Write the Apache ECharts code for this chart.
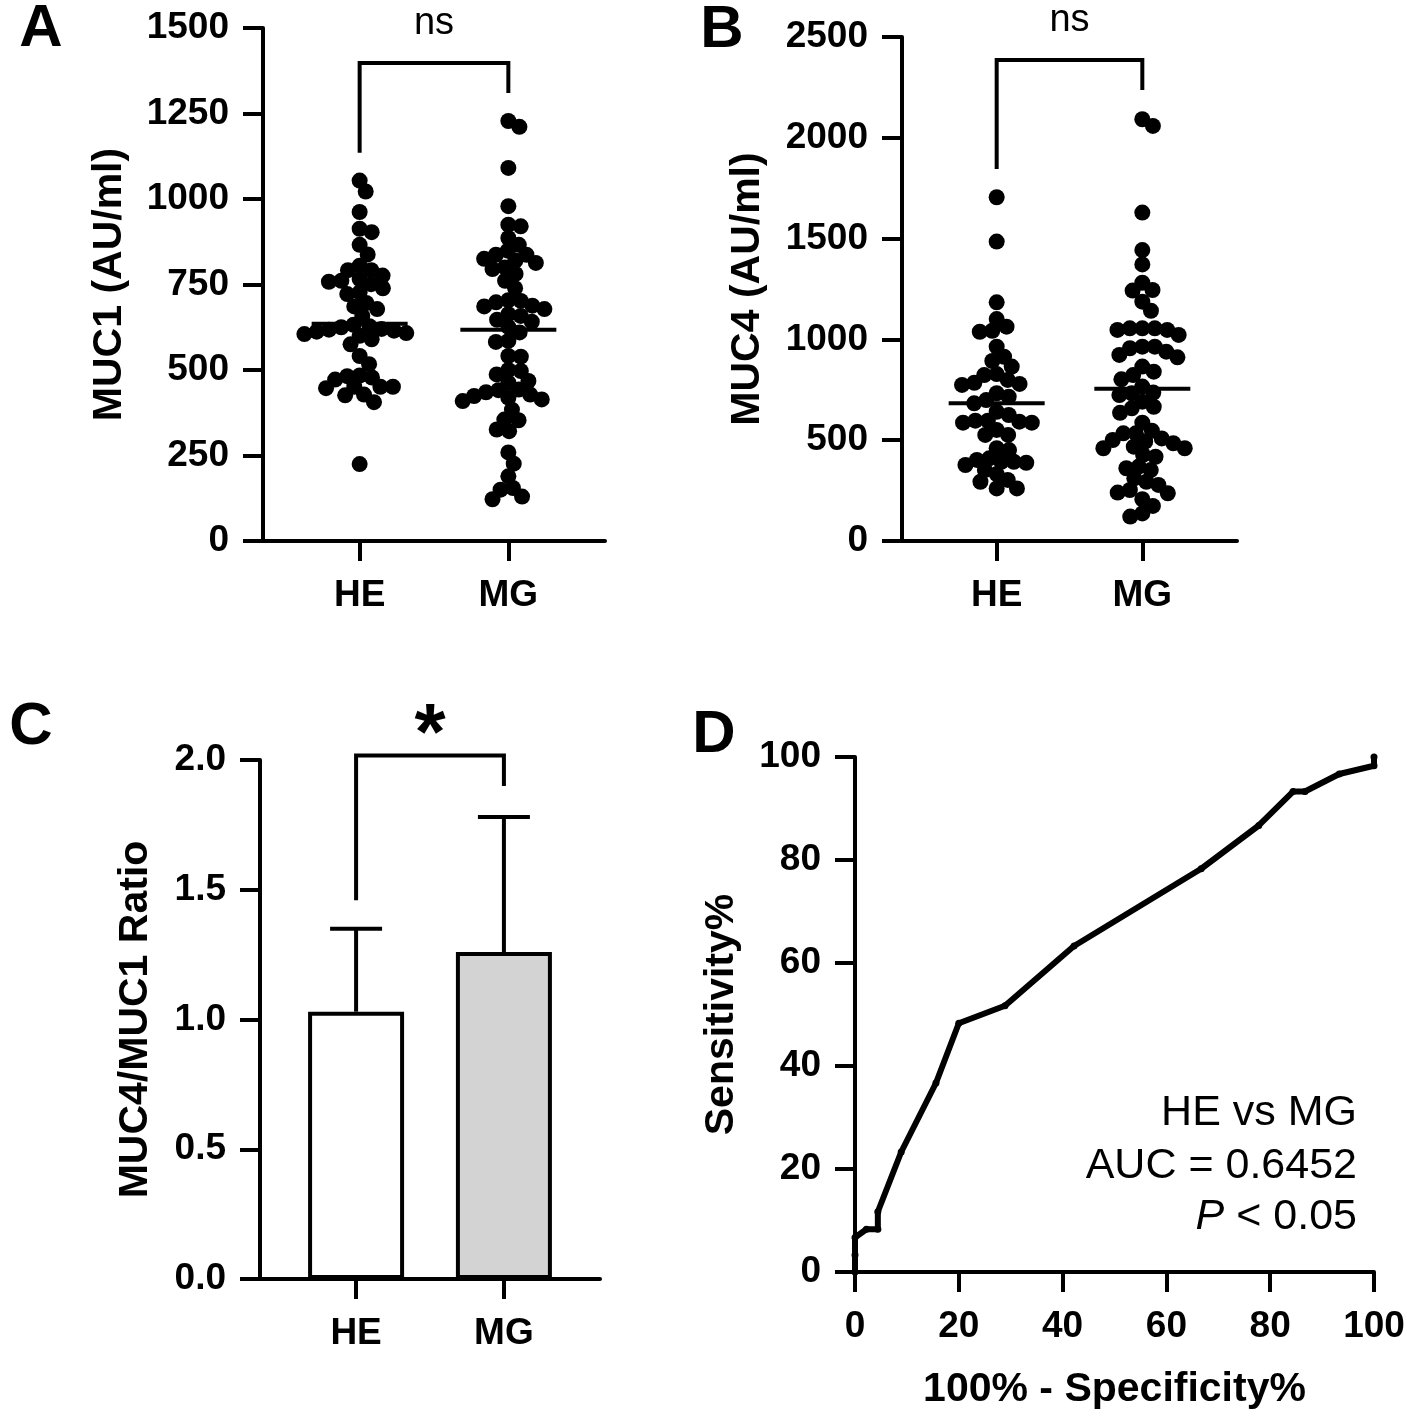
<!DOCTYPE html>
<html>
<head>
<meta charset="utf-8">
<script src="https://cdn.jsdelivr.net/npm/echarts@6/dist/echarts.min.js"></script>
<style>
html, body { margin: 0; background: #fff; }
#main { width: 1417px; height: 1417px; }
</style>
</head>
<body>
<div id="main"></div>
<script>
var groups = ['HE', 'MG'];

// A: MUC1 (AU/ml)
var muc1HE = [1054, 1022, 962, 913, 903, 866, 838, 805, 792, 792, 776, 766, 761, 758, 751, 739, 727, 722,
  696, 686, 678, 658, 632, 628, 625, 620, 618, 615, 612, 608, 605, 600, 590, 575, 541, 517, 484, 482,
  478, 472, 451, 451, 451, 447, 428, 426, 406, 225];
var muc1MG = [1228, 1211, 1091, 979, 925, 920, 886, 866, 849, 837, 837, 825, 820, 813, 800, 795, 781, 761,
  739, 704, 702, 698, 688, 686, 678, 663, 658, 647, 641, 626, 610, 585, 582, 541, 539, 500, 497, 487,
  468, 463, 443, 441, 435, 428, 424, 419, 414, 409, 384, 355, 353, 326, 321, 259, 226, 189, 155, 150, 130, 122];
var muc1Mean = [635, 618];

// B: MUC4 (AU/ml)
var muc4HE = [1705, 1485, 1184, 1101, 1063, 1043, 1038, 964, 914, 893, 865, 828, 823, 799, 785, 779, 774,
  733, 716, 699, 683, 641, 625, 597, 597, 592, 587, 587, 551, 526, 526, 460, 451, 410, 402, 393, 393,
  388, 377, 352, 332, 303, 294, 261, 261];
var muc4MG = [2092, 2059, 1629, 1443, 1372, 1281, 1245, 1242, 1187, 1142, 1055, 1055, 1055, 1047, 1047,
  1022, 964, 964, 956, 939, 923, 911, 865, 840, 823, 802, 766, 736, 733, 724, 691, 666, 658, 636, 587,
  547, 534, 534, 509, 501, 493, 485, 468, 460, 460, 427, 418, 369, 361, 352, 311, 294, 278, 253, 240,
  237, 207, 174, 137, 121];
var muc4Mean = [683, 755];

// C: MUC4/MUC1 ratio, mean + SD
var ratioMean = [1.03, 1.26];
var ratioSD = [0.32, 0.52];

// D: ROC curve
var rocFpr = [0, 0, 0, 2.2, 4.4, 4.4, 8.9, 15.6, 20.0, 28.9, 42.2, 66.7, 77.8, 84.4, 86.7, 93.3, 100, 100];
var rocTpr = [0, 3.3, 6.7, 8.3, 8.3, 11.7, 23.3, 36.7, 48.3, 51.7, 63.3, 78.3, 86.7, 93.3, 93.3, 96.7, 98.3, 100];

// significance brackets: [HE leg end, bracket level, MG leg end]
var bracketA = [1135, 1398, 1310];
var bracketB = [1845, 2386, 2237];
var bracketC = [1.46, 2.017, 1.90];

var FONT = '"Liberation Sans", Arial, Helvetica, sans-serif';
var chart = echarts.init(document.getElementById('main'));

function axisBase() {
  return {
    axisLine: { show: true, onZero: false, lineStyle: { color: '#000', width: 4 } },
    axisTick: { show: true, length: 20, lineStyle: { color: '#000', width: 4 } },
    splitLine: { show: false }
  };
}

function yAx(gi, max, step, name, gap, fmt) {
  var a = axisBase();
  a.type = 'value';
  a.gridIndex = gi;
  a.min = 0;
  a.max = max;
  a.interval = step;
  a.name = name;
  a.nameLocation = 'middle';
  a.nameGap = gap;
  a.nameTextStyle = { fontSize: 41, fontWeight: 'bold', color: '#000', fontFamily: FONT };
  a.axisLabel = { fontSize: 37, fontWeight: 'bold', color: '#000', fontFamily: FONT, margin: 34,
    showMinLabel: true, showMaxLabel: true, formatter: fmt || function (v) { return String(v); } };
  return a;
}

function xGroupAx(gi) {
  var a = axisBase();
  a.type = 'value';
  a.gridIndex = gi;
  a.min = 0.35;
  a.max = 2.65;
  a.axisTick.customValues = [1, 2];
  a.axisLabel = { customValues: [1, 2], fontSize: 37, fontWeight: 'bold', color: '#000', fontFamily: FONT,
    margin: 36, formatter: function (v) { return groups[Math.round(v) - 1]; } };
  return a;
}

function meanSeries(id, gi, means) {
  return {
    id: id, type: 'custom', xAxisIndex: gi, yAxisIndex: gi, z: 5,
    data: means.map(function (m, i) { return [i + 1, m]; }),
    renderItem: function (params, api) {
      var p = api.coord([api.value(0), api.value(1)]);
      return { type: 'line', shape: { x1: p[0] - 48, y1: p[1], x2: p[0] + 48, y2: p[1] },
        style: { stroke: '#000', lineWidth: 4 } };
    }
  };
}

function bracketSeries(id, gi, br, label, font, lift) {
  return {
    id: id, type: 'custom', xAxisIndex: gi, yAxisIndex: gi, z: 5,
    data: [br],
    renderItem: function (params, api) {
      var l = api.value(0), t = api.value(1), r = api.value(2);
      var p1 = api.coord([1, l]), p2 = api.coord([1, t]), p3 = api.coord([2, t]), p4 = api.coord([2, r]);
      return { type: 'group', children: [
        { type: 'polyline', shape: { points: [p1, p2, p3, p4] },
          style: { stroke: '#000', lineWidth: 4, fill: null, lineJoin: 'miter' } },
        { type: 'text', x: (p2[0] + p3[0]) / 2, y: p2[1] - lift,
          style: { text: label, font: font, fill: '#000', align: 'center', verticalAlign: 'middle' } }
      ] };
    }
  };
}

function dots(id, gi) {
  return { id: id, type: 'scatter', xAxisIndex: gi, yAxisIndex: gi, symbol: 'circle', symbolSize: 16,
    itemStyle: { color: '#000', opacity: 1 }, data: [], z: 3 };
}

var xD = axisBase();
xD.type = 'value'; xD.gridIndex = 3; xD.min = 0; xD.max = 100; xD.interval = 20;
xD.name = '100% - Specificity%'; xD.nameLocation = 'middle'; xD.nameGap = 97;
xD.nameTextStyle = { fontSize: 41, fontWeight: 'bold', color: '#000', fontFamily: FONT };
xD.axisLabel = { fontSize: 37, fontWeight: 'bold', color: '#000', fontFamily: FONT, margin: 36,
  showMinLabel: true, showMaxLabel: true };

var option = {
  backgroundColor: '#fff',
  animation: false,
  grid: [
    { left: 263, top: 28, width: 342, height: 513, outerBoundsMode: 'none' },
    { left: 902, top: 37, width: 335, height: 504, outerBoundsMode: 'none' },
    { left: 260, top: 760, width: 340, height: 519, outerBoundsMode: 'none' },
    { left: 855, top: 757, width: 519, height: 515, outerBoundsMode: 'none' }
  ],
  xAxis: [xGroupAx(0), xGroupAx(1), xGroupAx(2), xD],
  yAxis: [
    yAx(0, 1500, 250, 'MUC1 (AU/ml)', 133),
    yAx(1, 2500, 500, 'MUC4 (AU/ml)', 134),
    yAx(2, 2, 0.5, 'MUC4/MUC1 Ratio', 104, function (v) { return v.toFixed(1); }),
    yAx(3, 100, 20, 'Sensitivity%', 113)
  ],
  graphic: [
    { type: 'text', x: 41, y: 29, style: { text: 'A', font: 'bold 60px ' + FONT, fill: '#000', align: 'center', verticalAlign: 'middle' } },
    { type: 'text', x: 722, y: 30, style: { text: 'B', font: 'bold 60px ' + FONT, fill: '#000', align: 'center', verticalAlign: 'middle' } },
    { type: 'text', x: 31, y: 727, style: { text: 'C', font: 'bold 60px ' + FONT, fill: '#000', align: 'center', verticalAlign: 'middle' } },
    { type: 'text', x: 714, y: 735, style: { text: 'D', font: 'bold 60px ' + FONT, fill: '#000', align: 'center', verticalAlign: 'middle' } },
    { type: 'text', x: 1357, y: 1113, style: { text: 'HE vs MG', font: '43px ' + FONT, fill: '#000', align: 'right', verticalAlign: 'middle' } },
    { type: 'text', x: 1357, y: 1166, style: { text: 'AUC = 0.6452', font: '43px ' + FONT, fill: '#000', align: 'right', verticalAlign: 'middle' } },
    { type: 'text', x: 1357, y: 1217, style: { text: '{i|P} < 0.05', font: '43px ' + FONT, fill: '#000', align: 'right', verticalAlign: 'middle',
      rich: { i: { fontStyle: 'italic', fontSize: 43, fontFamily: FONT, fill: '#000' } } } }
  ],
  series: [
    dots('aHE', 0), dots('aMG', 0), meanSeries('aMean', 0, muc1Mean),
    bracketSeries('aBr', 0, bracketA, 'ns', '38px ' + FONT, 39),
    dots('bHE', 1), dots('bMG', 1), meanSeries('bMean', 1, muc4Mean),
    bracketSeries('bBr', 1, bracketB, 'ns', '38px ' + FONT, 39),
    {
      id: 'cBar', type: 'bar', xAxisIndex: 2, yAxisIndex: 2, barWidth: 96, z: 3,
      data: ratioMean.map(function (m, i) {
        return { value: [i + 1, m], itemStyle: { color: i === 0 ? '#ffffff' : '#d3d3d3', borderColor: '#000', borderWidth: 4 } };
      })
    },
    {
      id: 'cErr', type: 'custom', xAxisIndex: 2, yAxisIndex: 2, z: 2,
      data: ratioMean.map(function (m, i) { return [i + 1, m, ratioSD[i]]; }),
      renderItem: function (params, api) {
        var x = api.value(0), m = api.value(1), sd = api.value(2);
        var a = api.coord([x, m]), b = api.coord([x, m + sd]);
        return { type: 'group', children: [
          { type: 'line', shape: { x1: a[0], y1: a[1], x2: b[0], y2: b[1] }, style: { stroke: '#000', lineWidth: 4 } },
          { type: 'line', shape: { x1: b[0] - 26, y1: b[1], x2: b[0] + 26, y2: b[1] }, style: { stroke: '#000', lineWidth: 4 } }
        ] };
      }
    },
    bracketSeries('cBr', 2, bracketC, '*', 'bold 80px ' + FONT, 19),
    {
      id: 'roc', type: 'line', xAxisIndex: 3, yAxisIndex: 3, clip: false,
      data: rocFpr.map(function (x, i) { return [x, rocTpr[i]]; }),
      symbol: 'circle', symbolSize: 7, showSymbol: true,
      lineStyle: { color: '#000', width: 6 }, itemStyle: { color: '#000' }
    }
  ]
};
chart.setOption(option);

// simple beeswarm: spread close values sideways in pixel space, then map back through the axis
var D = 12.5;
function swarm(vals, gi, xc) {
  var base = chart.convertToPixel({ gridIndex: gi }, [xc, 0]);
  var unit = chart.convertToPixel({ gridIndex: gi }, [xc + 1, 0])[0] - base[0];
  var pts = vals.map(function (v) {
    return { v: v, y: chart.convertToPixel({ gridIndex: gi }, [xc, v])[1], x: 0 };
  });
  pts.sort(function (a, b) { return a.y - b.y; });
  var placed = [];
  pts.forEach(function (p) {
    var cand = [0];
    placed.forEach(function (q) {
      var dy = Math.abs(p.y - q.y);
      if (dy < D) {
        var dx = Math.sqrt(D * D - dy * dy);
        cand.push(q.x + dx, q.x - dx);
      }
    });
    cand.sort(function (a, b) { return Math.abs(a) - Math.abs(b); });
    for (var i = 0; i < cand.length; i++) {
      var c = cand[i], ok = true;
      for (var j = 0; j < placed.length; j++) {
        var ddx = c - placed[j].x, ddy = p.y - placed[j].y;
        if (ddx * ddx + ddy * ddy < D * D - 0.01) { ok = false; break; }
      }
      if (ok) { p.x = c; break; }
    }
    placed.push(p);
  });
  return pts.map(function (p) { return [xc + p.x / unit, p.v]; });
}

chart.setOption({
  series: [
    { id: 'aHE', data: swarm(muc1HE, 0, 1) },
    { id: 'aMG', data: swarm(muc1MG, 0, 2) },
    { id: 'bHE', data: swarm(muc4HE, 1, 1) },
    { id: 'bMG', data: swarm(muc4MG, 1, 2) }
  ]
});
</script>
</body>
</html>
